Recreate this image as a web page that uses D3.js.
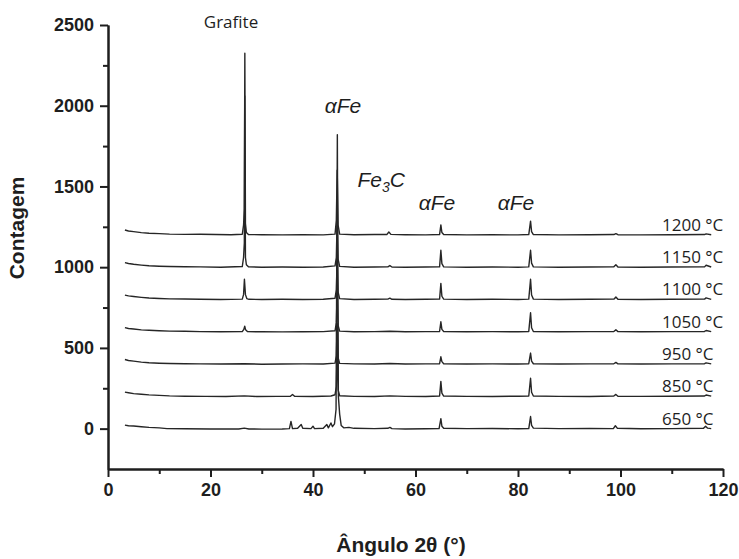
<!DOCTYPE html>
<html><head><meta charset="utf-8">
<script src="https://cdn.jsdelivr.net/npm/d3@7"></script>
<style>body{margin:0;background:#fff}</style>
</head><body><svg id="chart" width="739" height="559"></svg>
<script>
// ---- data ----
const temperatures = ["650 °C", "850 °C", "950 °C", "1050 °C", "1100 °C", "1150 °C", "1200 °C"];
const offsets = [0, 200, 400, 600, 800, 1000, 1200];

// [2θ, counts above own baseline]
const s650 = [[3.3,22],[4,18],[5,16],[6.5,12],[8,8],[10,5],[11.5,0],[15,-1],[20,-2],[25.5,-2],[26.6,3],[27.5,-2],[30,-3],[34,-2],[35.4,0],[35.7,45],[36.0,0],[37,2],[37.7,25],[38.0,2],[39.6,0],[40.0,15],[40.3,0],[42,2],[42.7,25],[43.0,5],[43.5,35],[43.8,12],[44.2,30],[44.5,120],[44.75,1820],[44.95,200],[45.2,90],[45.5,20],[46,5],[47,8],[48,2],[52,0],[54.6,2],[55,8],[55.4,0],[58,-2],[62,-1],[64.6,0],[64.95,62],[65.15,15],[65.5,2],[70,0],[75,1],[80,-1],[82.1,0],[82.45,75],[82.65,20],[83,3],[88,0],[94,1],[98.6,0],[99.0,18],[99.4,2],[104,-1],[110,0],[116.2,2],[116.6,15],[117,3],[117.7,0]];
const s850 = [[3.3,26],[4,22],[5,17],[6.5,13],[8,9],[10,6],[12,3],[15,1],[19,0],[23,-1],[26.6,3],[29,-1],[33,0],[35.6,1],[36.0,12],[36.4,0],[40,-1],[43.5,2],[44.3,10],[44.55,60],[44.72,300],[44.9,40],[45.2,4],[48,0],[52,-1],[55,3],[58,0],[62,-1],[64.7,2],[64.95,93],[65.15,20],[65.5,2],[70,0],[75,-1],[80,1],[82.1,2],[82.45,112],[82.65,25],[83,2],[88,0],[94,-1],[98.7,2],[99.1,12],[99.5,1],[104,0],[110,1],[116.4,2],[116.7,8],[117.7,1]];
const s950 = [[3.3,28],[4,22],[5,18],[6.5,12],[8,8],[10,5],[12,3],[15,2],[18,1],[22,0],[26.6,2],[30,-1],[34,0],[38,1],[42,0],[44.3,6],[44.55,50],[44.72,250],[44.9,40],[45.2,4],[48,1],[52,0],[55,3],[58,0],[62,1],[64.7,2],[64.95,45],[65.15,15],[65.5,2],[70,0],[75,1],[80,0],[82.1,2],[82.45,68],[82.65,18],[83,2],[88,0],[94,1],[98.7,2],[99.1,10],[99.5,1],[104,0],[110,1],[116.4,2],[116.7,7],[117.7,1]];
const s1050 = [[3.3,26],[4,20],[5,17],[6.5,12],[8,9],[10,6],[12,4],[15,3],[18,1],[22,0],[26.2,1],[26.5,15],[26.68,35],[26.85,12],[27.2,1],[30,0],[34,-1],[38,0],[42,1],[44.3,6],[44.55,55],[44.72,250],[44.9,40],[45.2,4],[48,0],[52,1],[55,3],[58,0],[62,1],[64.7,2],[64.95,62],[65.15,15],[65.5,2],[70,0],[75,1],[80,0],[82.1,2],[82.45,118],[82.65,25],[83,2],[88,0],[94,1],[98.7,2],[99.1,12],[99.5,1],[104,0],[110,1],[116.4,2],[116.7,8],[117.7,1]];
const s1100 = [[3.3,27],[4,22],[5,18],[6.5,13],[8,9],[10,6],[12,4],[15,3],[18,1],[22,0],[26.2,2],[26.45,30],[26.62,125],[26.82,30],[27.1,5],[27.5,1],[30,0],[34,1],[38,0],[42,1],[44.3,8],[44.55,60],[44.72,250],[44.9,45],[45.2,5],[48,0],[52,1],[54.6,2],[55,8],[55.4,1],[58,0],[62,1],[64.7,2],[64.95,100],[65.15,20],[65.5,2],[70,0],[75,1],[80,0],[82.1,2],[82.45,125],[82.65,28],[83,2],[88,0],[94,1],[98.7,2],[99.1,15],[99.5,1],[104,0],[110,1],[116.4,2],[116.7,10],[117.7,1]];
const s1150 = [[3.3,28],[4,23],[5,18],[6.5,13],[8,9],[10,6],[12,4],[15,3],[18,2],[22,0],[26.2,4],[26.45,60],[26.6,150],[26.68,1060],[26.82,60],[27.0,15],[27.4,2],[30,0],[34,1],[38,0],[42,1],[44.3,8],[44.55,60],[44.72,300],[44.9,50],[45.2,5],[48,0],[52,1],[54.6,2],[55,10],[55.4,1],[58,0],[62,1],[64.7,2],[64.95,105],[65.15,22],[65.5,2],[70,0],[75,1],[80,0],[82.1,2],[82.45,105],[82.65,25],[83,2],[88,0],[94,1],[98.7,2],[99.1,15],[99.5,1],[104,0],[110,1],[116.4,2],[116.7,12],[117.7,1]];
const s1200 = [[3.3,30],[4,24],[5,20],[6.5,14],[8,10],[10,8],[12,5],[15,3],[18,4],[21,2],[24,1],[26.2,4],[26.45,60],[26.6,160],[26.7,1125],[26.82,70],[27.0,15],[27.4,2],[30,1],[34,0],[38,1],[42,0],[44.3,5],[44.55,90],[44.72,400],[44.9,60],[45.2,5],[48,1],[52,2],[54.4,2],[54.8,18],[55.2,3],[58,1],[62,0],[64.7,2],[64.95,62],[65.15,15],[65.5,2],[70,0],[75,1],[80,0],[82.1,2],[82.45,85],[82.65,20],[83,2],[88,0],[94,1],[98.7,2],[99.1,8],[99.5,1],[104,0],[110,1],[116.4,2],[116.7,6],[117.7,1]];
const seriesData = [s650, s850, s950, s1050, s1100, s1150, s1200];

const xTicks = [0, 20, 40, 60, 80, 100, 120];
const xMinorTicks = [10, 30, 50, 70, 90, 110];
const yTicks = [0, 500, 1000, 1500, 2000, 2500];
const yMinorTicks = [250, 750, 1250, 1750, 2250];

// ---- drawing ----
const svg = d3.select("#chart");
const x = d3.scaleLinear().domain([0, 120]).range([108, 723]);
const y = d3.scaleLinear().domain([-250, 2500]).range([469, 25]);
const ink = "#1e1e1e";
const fmt = d3.format("d");

const line = d3.line().x(d => x(d[0])).y(d => y(d[1]));
seriesData.forEach((s, i) => {
  const pts = s.map(p => [p[0], p[1] + offsets[i]]);
  svg.append("path").attr("d", line(pts)).attr("fill", "none")
    .attr("stroke", "#262626").attr("stroke-width", 1.4).attr("stroke-linejoin", "round");
  svg.append("text").attr("x", 662).attr("y", y(offsets[i]) - 4)
    .attr("font-family", "'Open Sans', sans-serif").attr("font-size", 17)
    .attr("fill", ink).text(temperatures[i]);
});

// axes
const xAxis = svg.append("g").attr("transform", `translate(0,${y(-250)})`)
  .call(d3.axisBottom(x).tickValues(xTicks).tickFormat(fmt).tickSize(8).tickSizeOuter(0).tickPadding(6));
const xMinor = svg.append("g").attr("transform", `translate(0,${y(-250)})`)
  .call(d3.axisBottom(x).tickValues(xMinorTicks).tickSize(5).tickSizeOuter(0).tickFormat(""));
const yAxis = svg.append("g").attr("transform", `translate(${x(0)},0)`)
  .call(d3.axisLeft(y).tickValues(yTicks).tickFormat(fmt).tickSize(8).tickSizeOuter(0).tickPadding(6));
const yMinor = svg.append("g").attr("transform", `translate(${x(0)},0)`)
  .call(d3.axisLeft(y).tickValues(yMinorTicks).tickSize(5).tickSizeOuter(0).tickFormat(""));
[xAxis, xMinor, yAxis, yMinor].forEach(g => {
  g.selectAll("path.domain").attr("stroke", ink).attr("stroke-width", 2);
  g.selectAll(".tick line").attr("stroke", ink).attr("stroke-width", 2);
  g.selectAll(".tick text").attr("fill", ink).attr("font-family", "'Liberation Sans', Arial, sans-serif")
    .attr("font-size", 18).attr("font-weight", "bold");
});

// axis titles
svg.append("text").attr("transform", `translate(24,228) rotate(-90)`).attr("text-anchor", "middle")
  .attr("font-family", "'Liberation Sans', Arial, sans-serif").attr("font-size", 21).attr("font-weight", "bold")
  .attr("fill", ink).text("Contagem");
svg.append("text").attr("x", 401).attr("y", 552).attr("text-anchor", "middle")
  .attr("font-family", "'Liberation Sans', Arial, sans-serif").attr("font-size", 21).attr("font-weight", "bold")
  .attr("fill", ink).text("Ângulo 2θ (°)");

// peak annotations
svg.append("text").attr("x", x(24.0)).attr("y", y(2481)).attr("text-anchor", "middle")
  .attr("font-family", "'Open Sans', sans-serif").attr("font-size", 17).attr("fill", ink).text("Grafite");
const ann = [[45.85, 1955], [64.2, 1354], [79.6, 1354]];
ann.forEach(a => {
  svg.append("text").attr("x", x(a[0])).attr("y", y(a[1])).attr("text-anchor", "middle")
    .attr("font-family", "'Liberation Sans', Arial, sans-serif").attr("font-size", 21).attr("font-style", "italic")
    .attr("fill", ink).text("αFe");
});
const fe3c = svg.append("text").attr("x", x(53.3)).attr("y", y(1497)).attr("text-anchor", "middle")
  .attr("font-family", "'Liberation Sans', Arial, sans-serif").attr("font-size", 21).attr("font-style", "italic")
  .attr("fill", ink);
fe3c.append("tspan").text("Fe");
fe3c.append("tspan").attr("font-size", 14).attr("dy", 5).text("3");
fe3c.append("tspan").attr("dy", -5).text("C");
</script></body></html>
